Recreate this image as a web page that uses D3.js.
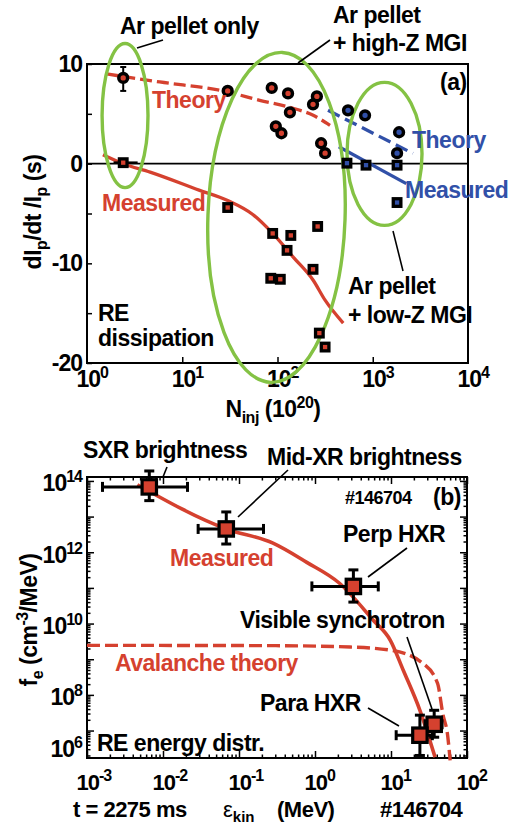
<!DOCTYPE html>
<html>
<head>
<meta charset="utf-8">
<script src="https://cdn.jsdelivr.net/npm/d3@7.9.0/dist/d3.min.js"></script>
<style>
  body { margin: 0; background: #fff; }
  svg { display: block; font-family: "Liberation Sans", Arial, sans-serif; font-weight: bold; }
</style>
</head>
<body>
<svg id="chart" width="517" height="831"></svg>
<script>
// ---------- panel (a): RE dissipation vs injected particles ----------
const redCircleN = [2.4, 30, 87, 129, 135, 96, 110, 259, 236, 287, 316];
const redCircleRate = [8.6, 7.3, 7.6, 7.05, 5.15, 3.75, 3.05, 6.75, 5.95, 2.05, 1.05];
const blueCircleN = [550, 830, 1890, 1800];
const blueCircleRate = [5.35, 4.85, 3.15, 1.05];
const redSquareN = [2.4, 30, 89, 138, 126, 264, 236, 85, 107, 275, 316];
const redSquareRate = [0.1, -4.4, -7.0, -7.2, -8.7, -6.3, -10.6, -11.5, -11.6, -17.0, -18.4];
const blueSquareN = [536, 850, 1800, 1800];
const blueSquareRate = [0.05, -0.15, -0.15, -3.9];
const pelletRateErr = [7.3, 9.7];
const pelletNErr = [1.9, 3.4];

const redTheoryN = [1.6, 5.8, 30, 65, 135, 237, 356];
const redTheoryRate = [9.0, 8.2, 7.2, 6.35, 5.65, 4.85, 3.85];
const redMeasN = [1.47, 2.4, 4.6, 15, 30, 55, 89, 147, 237, 316, 490];
const redMeasRate = [0.9, 0.0, -0.85, -2.65, -3.7, -5.1, -7.0, -9.4, -11.7, -13.7, -16.0];
const blueTheoryN = [339, 2640];
const blueTheoryRate = [5.35, 1.03];
const blueMeasN = [440, 2250];
const blueMeasRate = [1.7, -2.0];

// groups circled in green: [N range], [rate range], tilt (deg)
const groupNRange = [[1.44, 4.37], [18.6, 512], [537, 3290]];
const groupRateRange = [[-2.4, 12.05], [-21.95, 11.17], [-6.19, 8.16]];
const groupTilt = [0, 2, 0];

const rateTicks = [10, 0, -10, -20];
const rateMinorTicks = [10, 5, 0, -5, -10, -15, -20];
const nTicks = [1, 10, 100, 1000, 10000];

// ---------- panel (b): RE energy distribution ----------
const diagNames = ["SXR brightness", "Mid-XR brightness", "Perp HXR", "Visible synchrotron", "Para HXR"];
const diagE = [0.0066, 0.068, 3.2, 37, 24];
const diagELo = [0.0016, 0.029, 0.91, 28, 11.7];
const diagEHi = [0.021, 0.21, 6.8, 47, 35];
const diagF = [6.8e13, 4.5e12, 1.1e11, 1.5e7, 7.4e6];
const diagFLo = [2.8e13, 1.7e12, 4.0e10, 6.5e6, 2.0e6];
const diagFHi = [1.9e14, 1.35e13, 3.2e11, 3.7e7, 2.7e7];

const measE = [0.0046, 0.068, 0.28, 0.78, 2.1, 5.8, 9.8, 14.5, 24, 38];
const measF = [7.8e13, 4.5e12, 1.8e12, 5.2e11, 1.35e11, 1.26e10, 3.4e9, 4.9e8, 3.7e7, 1.8e6];
const avalE = [0.001, 0.3, 2.9, 9.8, 26, 41, 48, 56, 60];
const avalF = [2.45e9, 2.4e9, 2.2e9, 1.8e9, 7.8e8, 2.1e8, 3.0e7, 6.5e6, 1.45e6];

const eTickExp = [-3, -2, -1, 0, 1, 2];
const fTickExp = [8, 10, 12, 14];

const RED = "#d5412f", BLUE = "#3150a8", GREEN = "#84c244";

const svg = d3.select("#chart");
svg.append("rect").attr("width", 517).attr("height", 831).attr("fill", "#fff");

// rich text helper: parts = [[text, "sub"|"sup"|null, fontSize?]]
function rich(sel, parts) {
  let shift = 0;
  parts.forEach(([t, kind, fs]) => {
    const target = kind === "sub" ? 6 : kind === "sup" ? -9 : 0;
    const ts = sel.append("tspan").text(t).attr("dy", target - shift);
    if (kind) ts.attr("font-size", fs || 15);
    else if (fs) ts.attr("font-size", fs);
    shift = target;
  });
  return sel;
}
function label(g, x, y, parts, color, size, anchor) {
  const t = g.append("text").attr("x", x).attr("y", y)
    .attr("fill", color || "#000").attr("font-size", size || 23)
    .attr("letter-spacing", -0.5).attr("text-anchor", anchor || "start");
  if (typeof parts === "string") t.text(parts); else rich(t, parts);
  return t;
}
function leader(g, x1, y1, x2, y2) {
  g.append("line").attr("x1", x1).attr("y1", y1).attr("x2", x2).attr("y2", y2)
    .attr("stroke", "#000").attr("stroke-width", 1.6);
}
function cleanAxis(g) {
  g.attr("font-family", null).attr("font-size", 22).attr("text-anchor", null);
  g.select(".domain").remove();
  g.selectAll("line").attr("stroke-width", 1.5);
}

// ======================= panel (a) =======================
const x1 = d3.scaleLog().domain([1, 1e4]).range([87, 468]);
const y1 = d3.scaleLinear().domain([-20, 10]).range([363, 64]);
const ga = svg.append("g");

// ticks
ga.append("g").attr("transform", "translate(87,0)")
  .call(d3.axisRight(y1).tickValues(rateMinorTicks).tickSize(5).tickFormat(""))
  .call(cleanAxis);
ga.append("g").attr("transform", "translate(87,0)")
  .call(d3.axisLeft(y1).tickValues(rateTicks).tickSize(0).tickPadding(5).tickFormat(d => String(d)))
  .call(cleanAxis)
  .call(g => g.selectAll("text").attr("text-anchor", "end").attr("font-size", 23).attr("letter-spacing", -1));
ga.append("g").attr("transform", "translate(0,363)")
  .call(d3.axisTop(x1).tickValues([10, 100, 1000]).tickSize(6).tickFormat(""))
  .call(cleanAxis);
ga.append("g").attr("transform", "translate(0,363)")
  .call(d3.axisBottom(x1).tickValues(nTicks).tickSize(0).tickPadding(0).tickFormat(""))
  .call(cleanAxis)
  .call(g => g.selectAll(".tick").append("text")
    .attr("x", -11).attr("y", 24).attr("fill", "#000").attr("font-size", 23).attr("letter-spacing", -1)
    .each(function(d) { rich(d3.select(this), [["10"], [String(Math.round(Math.log10(d))), "sup", 16]]); }));

// frame + zero line
ga.append("rect").attr("x", 87).attr("y", 64).attr("width", 381).attr("height", 299)
  .attr("fill", "none").attr("stroke", "#000").attr("stroke-width", 2);
ga.append("line").attr("x1", x1(1)).attr("x2", x1(1e4)).attr("y1", y1(0)).attr("y2", y1(0))
  .attr("stroke", "#000").attr("stroke-width", 1.6);

// lines
const lineA = d3.line().x(d => x1(d[0])).y(d => y1(d[1])).curve(d3.curveMonotoneX);
ga.append("path").attr("d", lineA(d3.zip(redTheoryN, redTheoryRate)))
  .attr("fill", "none").attr("stroke", RED).attr("stroke-width", 3.3).attr("stroke-dasharray", "12,5");
ga.append("path").attr("d", lineA(d3.zip(redMeasN, redMeasRate)))
  .attr("fill", "none").attr("stroke", RED).attr("stroke-width", 3.3);
ga.append("path").attr("d", lineA(d3.zip(blueTheoryN, blueTheoryRate)))
  .attr("fill", "none").attr("stroke", BLUE).attr("stroke-width", 3.3).attr("stroke-dasharray", "13,6");
ga.append("path").attr("d", lineA(d3.zip(blueMeasN, blueMeasRate)))
  .attr("fill", "none").attr("stroke", BLUE).attr("stroke-width", 3.3);

// green group ellipses
groupNRange.forEach((nr, i) => {
  const rr = groupRateRange[i];
  const cx = (x1(nr[0]) + x1(nr[1])) / 2, cy = (y1(rr[0]) + y1(rr[1])) / 2;
  ga.append("ellipse")
    .attr("transform", `translate(${cx},${cy}) rotate(${groupTilt[i]})`)
    .attr("rx", (x1(nr[1]) - x1(nr[0])) / 2).attr("ry", (y1(rr[0]) - y1(rr[1])) / 2)
    .attr("fill", "none").attr("stroke", GREEN).attr("stroke-width", 3.4);
});

// error bars on pellet-only shot
ga.append("line").attr("x1", x1(2.4)).attr("x2", x1(2.4))
  .attr("y1", y1(pelletRateErr[0])).attr("y2", y1(pelletRateErr[1]))
  .attr("stroke", "#000").attr("stroke-width", 2);
pelletRateErr.forEach(v => ga.append("line").attr("x1", x1(2.4) - 3).attr("x2", x1(2.4) + 3)
  .attr("y1", y1(v)).attr("y2", y1(v)).attr("stroke", "#000").attr("stroke-width", 2));
ga.append("line").attr("x1", x1(pelletNErr[0])).attr("x2", x1(pelletNErr[1]))
  .attr("y1", y1(0.1)).attr("y2", y1(0.1)).attr("stroke", "#000").attr("stroke-width", 2.5);

// markers
function squaresA(ns, vs, fill) {
  ga.append("g").selectAll("rect").data(d3.zip(ns, vs)).join("rect")
    .attr("x", d => x1(d[0]) - 3.8).attr("y", d => y1(d[1]) - 3.8)
    .attr("width", 7.6).attr("height", 7.6)
    .attr("fill", fill).attr("stroke", "#000").attr("stroke-width", 3.3);
}
function circlesA(ns, vs, fill) {
  ga.append("g").selectAll("circle").data(d3.zip(ns, vs)).join("circle")
    .attr("cx", d => x1(d[0])).attr("cy", d => y1(d[1])).attr("r", 4.4)
    .attr("fill", fill).attr("stroke", "#000").attr("stroke-width", 3.5);
}
squaresA(redSquareN, redSquareRate, RED);
squaresA(blueSquareN, blueSquareRate, BLUE);
circlesA(redCircleN, redCircleRate, RED);
circlesA(blueCircleN, blueCircleRate, BLUE);

// text (a)
label(ga, 120, 34, "Ar pellet only");
leader(ga, 137, 48, 163, 40);
label(ga, 333, 23, "Ar pellet");
label(ga, 333, 51, "+ high-Z MGI");
leader(ga, 298, 63, 330, 40);
label(ga, 440, 90, "(a)");
label(ga, 152, 108, "Theory", RED);
label(ga, 102, 211, "Measured", RED);
label(ga, 412, 148, "Theory", BLUE);
label(ga, 405, 198, "Measured", BLUE);
label(ga, 348, 294, "Ar pellet");
label(ga, 348, 323, "+ low-Z MGI");
leader(ga, 393, 231, 403, 271);
label(ga, 98, 321, "RE");
label(ga, 98, 346, "dissipation");
label(ga, 273, 417, [["N"], ["inj", "sub", 16], [" (10"], ["20", "sup", 16], [")"]], "#000", 23, "middle");
label(ga, 0, 0, [["dI"], ["p", "sub", 16], ["/dt /I"], ["p", "sub", 16], [" (s)"]], "#000", 23, "middle")
  .attr("transform", "translate(41,212) rotate(-90)");

// ======================= panel (b) =======================
const x2 = d3.scaleLog().domain([1e-3, 1e2]).range([87, 467]);
const y2 = d3.scaleLog().domain([Math.pow(10, 6.23), Math.pow(10, 14.11)]).range([758, 477]);
const gb = svg.append("g");

const eMajor = d3.range(-3, 3).map(e => Math.pow(10, e));
const eMinor = [];
d3.range(-3, 2).forEach(e => d3.range(2, 10).forEach(k => eMinor.push(k * Math.pow(10, e))));
const fMajor = d3.range(7, 15).map(e => Math.pow(10, e));
const fMinor = [];
d3.range(6, 15).forEach(e => d3.range(2, 10).forEach(k => {
  const v = k * Math.pow(10, e);
  if (v > y2.domain()[0] && v < y2.domain()[1]) fMinor.push(v);
}));

[[d3.axisTop, "translate(0,758)"], [d3.axisBottom, "translate(0,477)"]].forEach(([ax, tr]) => {
  gb.append("g").attr("transform", tr).call(ax(x2).tickValues(eMajor).tickSize(7).tickFormat("")).call(cleanAxis);
  gb.append("g").attr("transform", tr).call(ax(x2).tickValues(eMinor).tickSize(3.5).tickFormat("")).call(cleanAxis);
});
[[d3.axisRight, "translate(87,0)"], [d3.axisLeft, "translate(467,0)"]].forEach(([ax, tr]) => {
  gb.append("g").attr("transform", tr).call(ax(y2).tickValues(fMajor).tickSize(7).tickFormat("")).call(cleanAxis);
  gb.append("g").attr("transform", tr).call(ax(y2).tickValues(fMinor).tickSize(3.5).tickFormat("")).call(cleanAxis);
});

// tick labels
gb.append("g").attr("transform", "translate(0,758)")
  .call(d3.axisBottom(x2).tickValues(eTickExp.map(e => Math.pow(10, e))).tickSize(0).tickFormat(""))
  .call(cleanAxis)
  .call(g => g.selectAll(".tick").append("text")
    .attr("x", -11).attr("y", 32).attr("fill", "#000").attr("font-size", 22).attr("letter-spacing", -1)
    .each(function(d) { rich(d3.select(this), [["10"], [String(Math.round(Math.log10(d))), "sup", 16]]); }));
gb.append("g").attr("transform", "translate(87,0)")
  .call(d3.axisLeft(y2).tickValues(fTickExp.map(e => Math.pow(10, e))).tickSize(0).tickFormat(""))
  .call(cleanAxis)
  .call(g => g.selectAll(".tick").append("text")
    .attr("x", -5).attr("y", 10).attr("fill", "#000").attr("font-size", 23).attr("letter-spacing", -1)
    .attr("text-anchor", "end")
    .each(function(d) { rich(d3.select(this), [["10"], [String(Math.round(Math.log10(d))), "sup", 16]]); }));
// lowest decade label sits at the bottom edge of the frame
rich(gb.append("text").attr("x", 82).attr("y", 757).attr("text-anchor", "end")
  .attr("font-size", 23).attr("letter-spacing", -1), [["10"], ["6", "sup", 16]]);

gb.append("rect").attr("x", 87).attr("y", 477).attr("width", 380).attr("height", 281)
  .attr("fill", "none").attr("stroke", "#000").attr("stroke-width", 2);

// curves
const lineB = d3.line().x(d => x2(d[0])).y(d => y2(d[1])).curve(d3.curveMonotoneX);
gb.append("path").attr("d", lineB(d3.zip(avalE, avalF)))
  .attr("fill", "none").attr("stroke", RED).attr("stroke-width", 3.4).attr("stroke-dasharray", "13,5");
gb.append("path").attr("d", lineB(d3.zip(measE, measF)))
  .attr("fill", "none").attr("stroke", RED).attr("stroke-width", 3.6);

// diagnostics with error bars
const diag = diagNames.map((name, i) => ({
  name, e: diagE[i], eLo: diagELo[i], eHi: diagEHi[i], f: diagF[i], fLo: diagFLo[i], fHi: diagFHi[i]
}));
const eb = gb.append("g").attr("stroke", "#000").attr("stroke-width", 3);
diag.forEach(d => {
  const cx = x2(d.e), cy = y2(d.f);
  eb.append("line").attr("x1", x2(d.eLo)).attr("x2", x2(d.eHi)).attr("y1", cy).attr("y2", cy);
  eb.append("line").attr("x1", cx).attr("x2", cx).attr("y1", y2(d.fLo)).attr("y2", y2(d.fHi));
  [d.eLo, d.eHi].forEach(v => eb.append("line").attr("x1", x2(v)).attr("x2", x2(v)).attr("y1", cy - 5).attr("y2", cy + 5));
  [d.fLo, d.fHi].forEach(v => eb.append("line").attr("x1", cx - 5).attr("x2", cx + 5).attr("y1", y2(v)).attr("y2", y2(v)));
});
gb.append("g").selectAll("rect").data(diag).join("rect")
  .attr("x", d => x2(d.e) - 7.2).attr("y", d => y2(d.f) - 7.2)
  .attr("width", 14.4).attr("height", 14.4)
  .attr("fill", RED).attr("stroke", "#000").attr("stroke-width", 3.2);

// text (b)
label(gb, 83, 458, "SXR brightness");
leader(gb, 163, 477, 167, 467);
label(gb, 267, 465, "Mid-XR brightness");
leader(gb, 288, 470, 238, 517);
label(gb, 345, 504, "#146704", "#000", 18);
label(gb, 433, 505, "(b)");
label(gb, 343, 542, "Perp HXR");
leader(gb, 407, 548, 368, 577);
label(gb, 170, 566, "Measured", RED);
label(gb, 240, 628, "Visible synchrotron");
leader(gb, 407, 637, 432, 709);
label(gb, 115, 671, "Avalanche theory", RED);
label(gb, 260, 711, "Para HXR");
leader(gb, 368, 708, 399, 726);
label(gb, 97, 751, "RE energy distr.");
label(gb, 73, 817, "t = 2275 ms", "#000", 22);
const eps = gb.append("text").attr("x", 223).attr("y", 817).attr("font-size", 22);
eps.append("tspan").attr("font-weight", "normal").text("ε");
eps.append("tspan").attr("dy", 5).attr("font-size", 15).text("kin");
label(gb, 277, 817, "(MeV)", "#000", 22);
label(gb, 380, 817, "#146704", "#000", 22);
label(gb, 0, 0, [["f"], ["e", "sub", 16], [" (cm"], ["-3", "sup", 16], ["/MeV)"]], "#000", 23, "middle")
  .attr("transform", "translate(37,620) rotate(-90)");
</script>
</body>
</html>
